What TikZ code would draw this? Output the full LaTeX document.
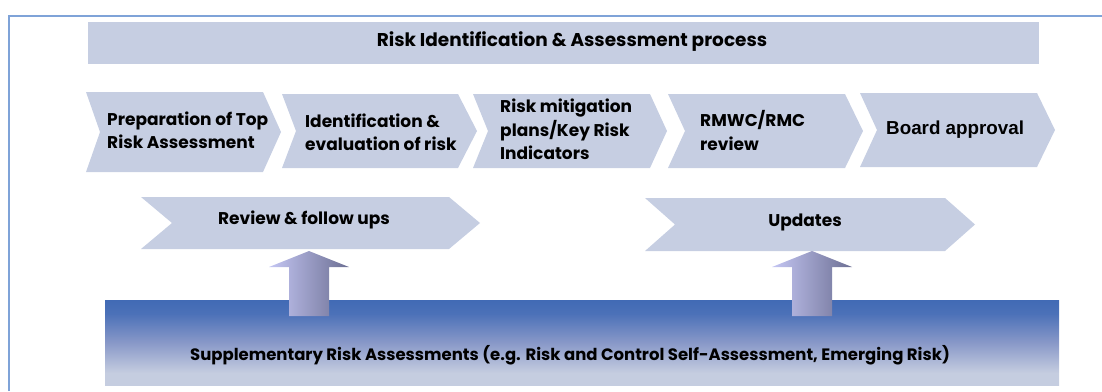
\documentclass[tikz,border=0pt]{standalone}
\usepackage{fontspec}
\setmainfont{Poppins}
\newfontfamily\boardfont{Liberation Sans}
\definecolor{chevfill}{HTML}{C6CEE2}
\definecolor{framecol}{HTML}{7FA3D8}
\definecolor{boxtop}{HTML}{416AB5}
\definecolor{boxmid}{HTML}{8898C8}
\definecolor{boxbot}{HTML}{C5CDE0}
\definecolor{arrL}{HTML}{C4C6F3}
\definecolor{arrR}{HTML}{6C6F93}
\pgfdeclareverticalshading{bluefade}{100bp}{color(0bp)=(boxbot); color(25bp)=(boxbot); color(32bp)=(boxbot); color(50bp)=(boxmid); color(67bp)=(boxtop!85!boxmid); color(75bp)=(boxtop); color(100bp)=(boxtop)}
\newcommand\chevshape[6]{% x1, x2, ytop, ybot, notch, tip
  \fill[chevfill] (#1,#3) -- ({#2-#6},#3) -- (#2,{(#3+#4)/2}) -- ({#2-#6},#4) -- (#1,#4) -- ({#1+#5},{(#3+#4)/2}) -- cycle;}
\tikzset{
  steptext/.style={anchor=west, align=left, font=\fontsize{17}{23.5}\selectfont\bfseries, inner sep=0pt},
  centertext/.style={anchor=center, font=\fontsize{17}{20}\selectfont\bfseries, inner sep=0pt},
}
\begin{document}
\begin{tikzpicture}[x=1pt,y=-1pt]
\useasboundingbox (0,0) rectangle (1102,391);
% frame
\draw[framecol, line width=1.5pt] (9,391) -- (9,16) -- (1102,16);
% title bar
\fill[chevfill] (88,22) rectangle (1039,64);
\node[centertext, font=\fontsize{18.5}{20}\selectfont\bfseries] (title) at (572,42) {Risk Identification \& Assessment process};
% step chevrons
\chevshape{86}{281}{92}{172}{14}{18}
\chevshape{282}{477}{94}{168}{14}{19}
\chevshape{473}{667}{94}{168}{15}{17}
\chevshape{668}{863}{94}{168}{17}{18}
\chevshape{860}{1055}{93}{167}{17}{18}
\node[steptext] (s1) at (107,130.5) {Preparation of Top\\Risk Assessment};
\node[steptext] (s2) at (305,132.5) {Identification \&\\evaluation of risk};
\node[steptext] (s3) at (500,129.5) {Risk mitigation\\plans/Key Risk\\Indicators};
\node[steptext] (s4) at (700,130.5) {RMWC/RMC\\review};
\node[steptext, font=\boardfont\fontsize{18.8}{20}\selectfont\bfseries] (s5) at (886,130) {Board approval};
% second row chevrons
\chevshape{141}{480}{197}{249}{31}{31}
\chevshape{645}{975}{198}{251}{30}{30}
\node[centertext] (rev) at (304,220) {Review \& follow ups};
\node[centertext] (upd) at (805,222) {Updates};
% bottom box
\path[shading=bluefade] (105,300) rectangle (1059,385);
\node[centertext, font=\fontsize{16.5}{20}\selectfont\bfseries] (supp) at (570,355) {Supplementary Risk Assessments (e.g. Risk and Control Self-Assessment, Emerging Risk)};
% up arrows
\coordinate (a1) at (309,316);
\coordinate (a2) at (812,316);
\foreach \c in {a1,a2}{
  \path[left color=arrL, right color=arrR]
    ([xshift=-20pt]\c) -- ([xshift=-20pt,yshift=49pt]\c) -- ([xshift=-40pt,yshift=49pt]\c)
    -- ([yshift=65pt]\c) -- ([xshift=40pt,yshift=49pt]\c) -- ([xshift=20pt,yshift=49pt]\c)
    -- ([xshift=20pt]\c) -- cycle;
}
\end{tikzpicture}
\end{document}
